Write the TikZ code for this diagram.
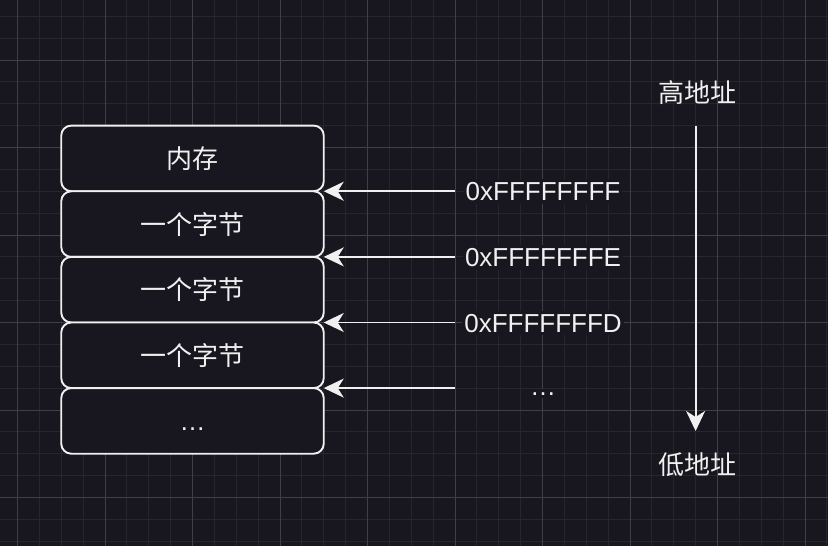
\documentclass[tikz,border=0pt]{standalone}
\usepackage{fontspec}
\setmainfont{Liberation Sans}
\newfontfamily\cjk{Noto Sans CJK SC}
\usetikzlibrary{arrows.meta}
\definecolor{bgc}{HTML}{18161E}
\definecolor{minorc}{HTML}{27262C}
\definecolor{majorc}{HTML}{403F45}
\definecolor{fg}{HTML}{F0F0F0}
\tikzset{
  membox/.style={draw=fg, line width=1.9pt, fill=bgc, rounded corners=10pt,
    minimum width=262.5pt, minimum height=65.625pt, inner sep=0pt, outer sep=0pt,
    text=fg, font=\cjk\fontsize{26}{31}\selectfont,
    text height=22.9pt, text depth=3.1pt},
  cjklabel/.style={text=fg, inner sep=0pt, font=\cjk\fontsize{26}{31}\selectfont,
    text height=22.9pt, text depth=3.1pt},
  addr/.style={text=fg, fill=bgc, anchor=base, inner xsep=2pt, inner ysep=3pt,
    font=\fontsize{26}{31}\selectfont},
  arr/.style={draw=fg, line width=1.9pt, -{Stealth[length=20pt,width=19pt,inset=6pt]}},
  minorline/.style={draw=minorc, line width=1pt},
  majorline/.style={draw=majorc, line width=1pt}
}
\begin{document}
\begin{tikzpicture}[x=1pt,y=-1pt]
\fill[bgc] (0,0) rectangle (828,546);
\useasboundingbox (0,0) rectangle (828,546);
% grid
\foreach \i in {0,...,38} {\draw[minorline] ({-4.375+\i*21.875},0) -- ++(0,546);}
\foreach \j in {0,...,25} {\draw[minorline] (0,{-5.625+\j*21.875}) -- ++(828,0);}
\foreach \i in {0,...,9} {\draw[majorline] ({17.5+\i*87.5},0) -- ++(0,546);}
\foreach \j in {0,...,5} {\draw[majorline] (0,{60+\j*87.5}) -- ++(828,0);}
% memory boxes
\node[membox] (m1) at (192.5,158.4) {内存};
\node[membox] (m2) at (192.5,224.1) {一个字节};
\node[membox] (m3) at (192.5,289.7) {一个字节};
\node[membox] (m4) at (192.5,355.3) {一个字节};
\node[membox, font=\fontsize{26}{31}\selectfont] (m5) at (192.5,420.9) {…};
% address labels
\node[addr] (a1) at (543,200.5) {0xFFFFFFFF};
\node[addr] (a2) at (543,266.5) {0xFFFFFFFE};
\node[addr] (a3) at (543,332) {0xFFFFFFFD};
\node[addr] (a4) at (543,395) {…};
% arrow starts
\coordinate (s1) at (455,191.25);
\coordinate (s2) at (455,256.9);
\coordinate (s3) at (455,322.5);
\coordinate (s4) at (455,388.1);
\draw[arr] (s1) -- (s1 -| m1.east);
\draw[arr] (s2) -- (s2 -| m2.east);
\draw[arr] (s3) -- (s3 -| m3.east);
\draw[arr] (s4) -- (s4 -| m4.east);
% high / low address
\node[cjklabel] (hi) at (697,93) {高地址};
\node[cjklabel] (lo) at (697,465) {低地址};
\coordinate (vt) at (695.6,125.6);
\coordinate (vb) at (695.6,431);
\draw[arr] (vt) -- (vb);
\end{tikzpicture}
\end{document}
